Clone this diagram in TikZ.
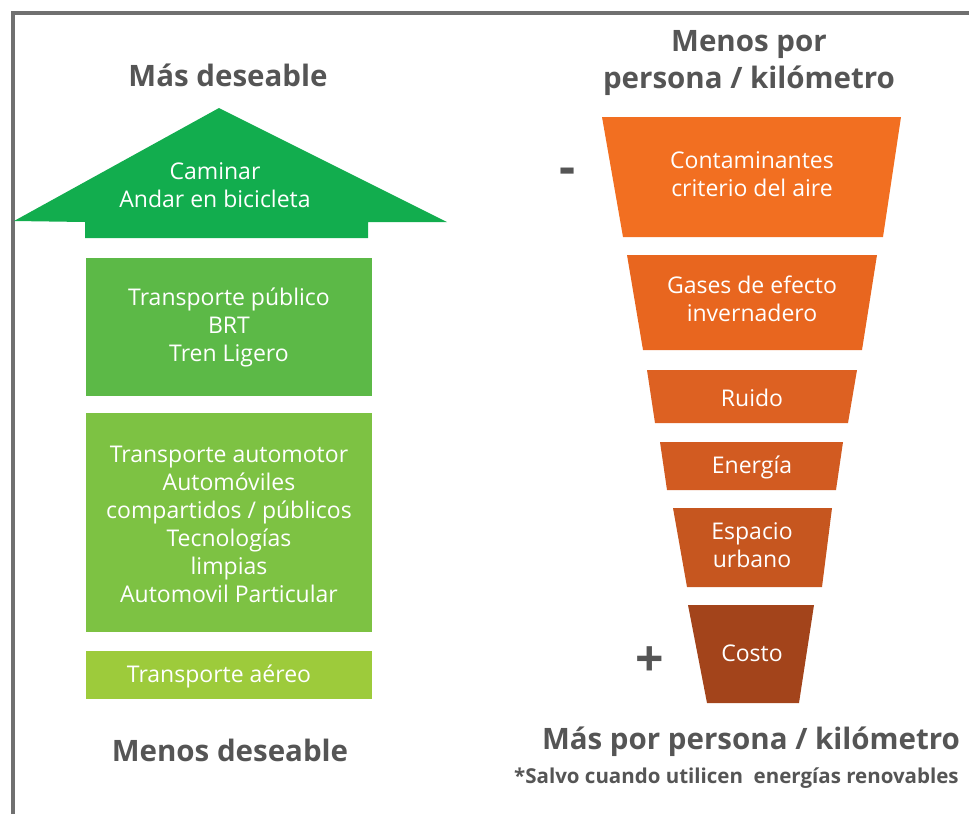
\documentclass[tikz,border=0pt]{standalone}
\usepackage{fontspec}
\setmainfont{Open Sans}
\definecolor{framegray}{HTML}{707070}
\definecolor{titlegray}{HTML}{555555}
\definecolor{gArrow}{HTML}{12AD4E}
\definecolor{gOne}{HTML}{5CB947}
\definecolor{gTwo}{HTML}{7DC243}
\definecolor{gThree}{HTML}{9DCB3B}
\definecolor{oOne}{HTML}{F26F21}
\definecolor{oTwo}{HTML}{E8661F}
\definecolor{oThree}{HTML}{DD6122}
\definecolor{oFour}{HTML}{D25B21}
\definecolor{oFive}{HTML}{C6561F}
\definecolor{oSix}{HTML}{A3441B}
\tikzset{
  titletext/.style={font=\fontsize{29.5}{37}\selectfont\bfseries, text=titlegray, align=center, inner sep=0pt},
  notetext/.style={font=\fontsize{20.5}{22}\selectfont\bfseries, text=titlegray, inner sep=0pt, anchor=west},
  wtext/.style={font=\fontsize{23}{28}\selectfont, text=white, align=center, inner sep=0pt},
  gbox/.style={minimum width=286pt, inner sep=0pt, outer sep=0pt},
  signtext/.style={font=\fontsize{50}{50}\selectfont\bfseries, text=titlegray, inner sep=0pt}
}
\begin{document}
\begin{tikzpicture}[x=1pt,y=-1pt]
\useasboundingbox (0,0) rectangle (969,814);
% frame
\draw[framegray, line width=4pt] (13,814) -- (13,13) -- (969,13);

% titles left
\node[titletext] (masdes) at (228,75) {Más deseable};
\node[titletext] (menosdes) at (230,750) {Menos deseable};

% green arrow
\fill[gArrow] (219,108) -- (447,222) -- (368,222) -- (368,238) -- (85,238) -- (85,222) -- (14,221) -- cycle;
\node[wtext] (walk) at (215,185) {Caminar\\Andar en bicicleta};

% green boxes
\node[gbox, fill=gOne, minimum height=138pt] (pub) at (229,327) {};
\node[wtext] (pubtext) at (pub.center) {Transporte público\\BRT\\Tren Ligero};
\node[gbox, fill=gTwo, minimum height=219pt] (auto) at (229,522.5) {};
\node[wtext] (autotext) at (229,524) {Transporte automotor\\Automóviles\\compartidos / públicos\\Tecnologías\\limpias\\Automovil Particular};
\node[gbox, fill=gThree, minimum height=48pt] (aer) at (229,675) {};
\node[wtext] (aertext) at (219,676) {Transporte aéreo};

% titles right
\node[titletext] (menospor) at (749,63) {Menos por\\persona / kilómetro};
\node[titletext] (maspor) at (751,742) {Más por persona / kilómetro};
\node[notetext] (nota) at (514,778) {*Salvo cuando utilicen\ \ energías renovables};

% funnel
\fill[oOne] (602,117) -- (901,117) -- (883,237) -- (623,237) -- cycle;
\node[wtext] (cont) at (752,174) {Contaminantes\\criterio del aire};
\fill[oTwo] (627,255) -- (877,255) -- (862,350) -- (643,350) -- cycle;
\node[wtext] (gases) at (752,299) {Gases de efecto\\invernadero};
\fill[oThree] (647,370) -- (857,370) -- (848,423) -- (655,423) -- cycle;
\node[wtext] (ruido) at (752,398) {Ruido};
\fill[oFour] (660,442) -- (843,442) -- (836,490) -- (667,490) -- cycle;
\node[wtext] (energia) at (752,467) {Energía};
\fill[oFive] (673,508) -- (832,508) -- (822,587) -- (687,587) -- cycle;
\node[wtext] (espacio) at (752,545) {Espacio\\urbano};
\fill[oSix] (688,605) -- (814,605) -- (799,703) -- (707,703) -- cycle;
\node[wtext] (costo) at (752,653) {Costo};

% signs
\node[signtext] (minus) at (568,176) {-};
\node[signtext] (plus) at (650,662) {+};
\end{tikzpicture}
\end{document}
